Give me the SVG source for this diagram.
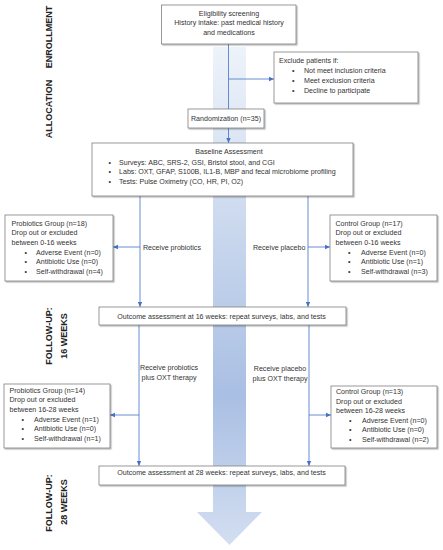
<svg xmlns="http://www.w3.org/2000/svg" width="443" height="550" viewBox="0 0 443 550">
<defs>
<linearGradient id="bg" x1="0" y1="47" x2="0" y2="545" gradientUnits="userSpaceOnUse">
<stop offset="0" stop-color="#eef3fa"/>
<stop offset="0.7" stop-color="#a9bfe3"/>
<stop offset="1" stop-color="#d3def1"/>
</linearGradient>
<marker id="ah" markerWidth="6" markerHeight="6" refX="5" refY="3" orient="auto" markerUnits="userSpaceOnUse">
<path d="M0,0.8 L5,3 L0,5.2 Z" fill="#4472c4"/>
</marker>
<filter id="sh" x="-5%" y="-5%" width="115%" height="130%">
<feDropShadow dx="1.2" dy="1.2" stdDeviation="0.6" flood-color="#000" flood-opacity="0.3"/>
</filter>
</defs>
<style>
.box{fill:#fff;stroke:#7f7f7f;stroke-width:0.8;filter:url(#sh)}
.t{font-family:"Liberation Sans",Arial,sans-serif;font-size:7.1px;fill:#333}
.c{text-anchor:middle}
.side{font-family:"Liberation Sans",Arial,sans-serif;font-size:9px;font-weight:bold;fill:#222;text-anchor:middle}
.ln{fill:none;stroke:#4472c4;stroke-width:0.8}
.ar{marker-end:url(#ah)}
</style>
<rect width="443" height="550" fill="#fff"/>

<g id="bigarrow">
<path d="M213,47 H246 V512 H262 L229.5,545 L197,512 H213 Z" fill="url(#bg)"/>
</g>

<g id="side-labels">
<text class="side" transform="translate(51.5,37) rotate(-90)">ENROLLMENT</text>
<text class="side" transform="translate(51.5,109) rotate(-90)">ALLOCATION</text>
<text class="side" transform="translate(51.5,336) rotate(-90)">FOLLOW-UP:</text>
<text class="side" transform="translate(66.5,336) rotate(-90)">16 WEEKS</text>
<text class="side" transform="translate(51.5,503) rotate(-90)">FOLLOW-UP:</text>
<text class="side" transform="translate(66.5,502) rotate(-90)">28 WEEKS</text>
</g>

<g id="connectors">
<path class="ln" d="M228.5,44 V109"/>
<path class="ln ar" d="M228.5,79 H274"/>
<path class="ln ar" d="M228.5,128 V143"/>
<path class="ln ar" d="M140,196 V307"/>
<path class="ln ar" d="M140,247 H113"/>
<path class="ln ar" d="M308,196 V307"/>
<path class="ln ar" d="M308,247 H330"/>
<path class="ln ar" d="M139,325 V466"/>
<path class="ln ar" d="M139,415 H110"/>
<path class="ln ar" d="M309,325 V466"/>
<path class="ln ar" d="M309,415 H331"/>
</g>

<g id="connector-labels">
<text class="t" x="143" y="249.5">Receive probiotics</text>
<text class="t" x="253" y="249.5">Receive placebo</text>
<text class="t c" x="169" y="369.5">Receive probiotics</text>
<text class="t c" x="169" y="379.5">plus OXT therapy</text>
<text class="t c" x="280" y="370.5">Receive placebo</text>
<text class="t c" x="280" y="380.5">plus OXT therapy</text>
</g>

<g id="eligibility">
<rect class="box" x="161.5" y="5" width="134.5" height="39"/>
<text class="t c" x="229" y="15.5">Eligibility screening</text>
<text class="t c" x="229" y="25">History intake: past medical history</text>
<text class="t c" x="229" y="34.5">and medications</text>
</g>

<g id="exclude">
<rect class="box" x="274" y="52" width="144" height="51"/>
<text class="t" x="279" y="63">Exclude patients if:</text>
<text class="t" x="292" y="72.5">•</text><text class="t" x="304" y="72.5">Not meet inclusion criteria</text>
<text class="t" x="292" y="82.5">•</text><text class="t" x="304" y="82.5">Meet exclusion criteria</text>
<text class="t" x="292" y="92.5">•</text><text class="t" x="304" y="92.5">Decline to participate</text>
</g>

<g id="randomization">
<rect class="box" x="188" y="109" width="76" height="19"/>
<text class="t c" x="226" y="120.5">Randomization (n=35)</text>
</g>

<g id="baseline">
<rect class="box" x="92" y="143" width="261" height="53"/>
<text class="t c" x="229" y="153.5">Baseline Assessment</text>
<text class="t" x="108.5" y="164.5">•</text><text class="t" x="119" y="164.5">Surveys: ABC, SRS-2, GSI, Bristol stool, and CGI</text>
<text class="t" x="108.5" y="174">•</text><text class="t" x="119" y="174">Labs: OXT, GFAP, S100B, IL1-B, MBP and fecal microbiome profiling</text>
<text class="t" x="108.5" y="183.5">•</text><text class="t" x="119" y="183.5">Tests: Pulse Oximetry (CO, HR, PI, O2)</text>
</g>

<g id="probiotics1">
<rect class="box" x="5" y="215" width="108" height="66"/>
<text class="t" x="11.5" y="225.5">Probiotics Group (n=18)</text>
<text class="t" x="11.5" y="235">Drop out or excluded</text>
<text class="t" x="11.5" y="244.5">between 0-16 weeks</text>
<text class="t" x="24.5" y="254.5">•</text><text class="t" x="36" y="254.5">Adverse Event (n=0)</text>
<text class="t" x="24.5" y="264">•</text><text class="t" x="36" y="264">Antibiotic Use (n=0)</text>
<text class="t" x="24.5" y="273.5">•</text><text class="t" x="36" y="273.5">Self-withdrawal (n=4)</text>
</g>

<g id="control1">
<rect class="box" x="330" y="215" width="107" height="66"/>
<text class="t" x="335.5" y="225.5">Control Group (n=17)</text>
<text class="t" x="335.5" y="235">Drop out or excluded</text>
<text class="t" x="335.5" y="244.5">between 0-16 weeks</text>
<text class="t" x="348" y="254.5">•</text><text class="t" x="361" y="254.5">Adverse Event (n=0)</text>
<text class="t" x="348" y="264">•</text><text class="t" x="361" y="264">Antibiotic Use (n=1)</text>
<text class="t" x="348" y="273.5">•</text><text class="t" x="361" y="273.5">Self-withdrawal (n=3)</text>
</g>

<g id="outcome16">
<rect class="box" x="99" y="307" width="247" height="18"/>
<text class="t c" x="221.5" y="318.5">Outcome assessment at 16 weeks: repeat surveys, labs, and tests</text>
</g>

<g id="probiotics2">
<rect class="box" x="4" y="384" width="106" height="64"/>
<text class="t" x="9.5" y="392.5">Probiotics Group (n=14)</text>
<text class="t" x="9.5" y="402">Drop out or excluded</text>
<text class="t" x="9.5" y="411.5">between 16-28 weeks</text>
<text class="t" x="21.5" y="421.5">•</text><text class="t" x="34" y="421.5">Adverse Event (n=1)</text>
<text class="t" x="21.5" y="431">•</text><text class="t" x="34" y="431">Antibiotic Use (n=0)</text>
<text class="t" x="21.5" y="440.5">•</text><text class="t" x="34" y="440.5">Self-withdrawal (n=1)</text>
</g>

<g id="control2">
<rect class="box" x="331" y="386" width="106" height="62"/>
<text class="t" x="336" y="394">Control Group (n=13)</text>
<text class="t" x="336" y="403.5">Drop out or excluded</text>
<text class="t" x="336" y="413">between 16-28 weeks</text>
<text class="t" x="349" y="422.5">•</text><text class="t" x="362" y="422.5">Adverse Event (n=0)</text>
<text class="t" x="349" y="432">•</text><text class="t" x="362" y="432">Antibiotic Use (n=0)</text>
<text class="t" x="349" y="441.5">•</text><text class="t" x="362" y="441.5">Self-withdrawal (n=2)</text>
</g>

<g id="outcome28">
<rect class="box" x="99" y="466" width="246" height="19"/>
<text class="t c" x="221.5" y="474.5">Outcome assessment at 28 weeks: repeat surveys, labs, and tests</text>
</g>
</svg>
